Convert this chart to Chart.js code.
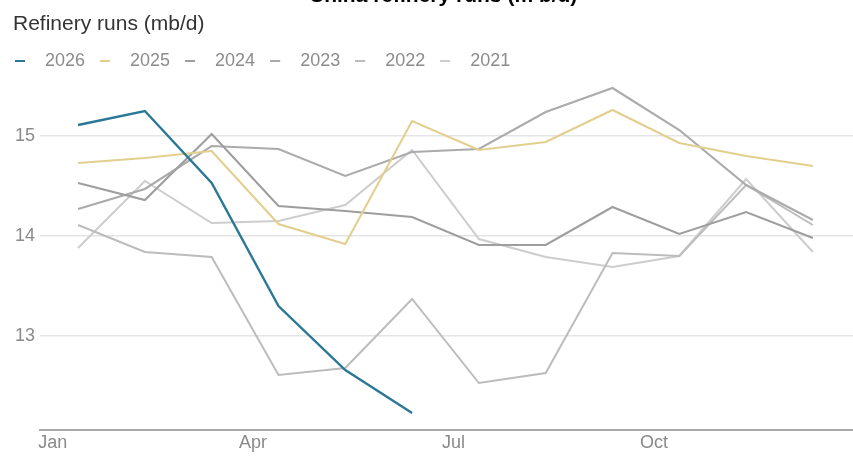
<!DOCTYPE html>
<html><head><meta charset="utf-8">
<script src="https://cdn.jsdelivr.net/npm/chart.js@4.4.0/dist/chart.umd.min.js"></script>
<style>
html,body{margin:0;padding:0;background:#fff;}
#wrap{position:relative;width:853px;height:460px;overflow:hidden;}
#c{position:absolute;left:0;top:0;}
#t{position:absolute;left:309px;top:-16px;font:bold 21px 'Liberation Sans',Arial,sans-serif;line-height:21px;color:#000;white-space:nowrap;}
#s{position:absolute;left:13px;top:12px;font:21px 'Liberation Sans',Arial,sans-serif;line-height:21px;color:#333;white-space:nowrap;}
</style></head><body>
<div id="wrap"><canvas id="c" width="853" height="460" style="width:853px;height:460px"></canvas><div id="t">China refinery runs (m b/d)</div><div id="s">Refinery runs (mb/d)</div></div>
<script>
const months = ['Jan','Feb','Mar','Apr','May','Jun','Jul','Aug','Sep','Oct','Nov','Dec'];
const tickLabels = ['Jan','Apr','Jul','Oct'];
const yTicks = [13, 14, 15];
const years = ['2026','2025','2024','2023','2022','2021'];
const v2026 = [15.11, 15.25, 14.53, 13.30, 12.66, 12.23];
const v2025 = [14.73, 14.78, 14.85, 14.12, 13.92, 15.15, 14.86, 14.94, 15.26, 14.93, 14.80, 14.70];
const v2024 = [14.53, 14.36, 15.02, 14.30, 14.25, 14.19, 13.91, 13.91, 14.29, 14.02, 14.24, 13.98];
const v2023 = [14.27, 14.47, 14.90, 14.87, 14.60, 14.84, 14.87, 15.24, 15.48, 15.06, 14.51, 14.16];
const v2022 = [14.11, 13.84, 13.79, 12.61, 12.68, 13.37, 12.53, 12.63, 13.83, 13.80, 14.51, 14.11];
const v2021 = [13.88, 14.55, 14.13, 14.15, 14.31, 14.86, 13.97, 13.79, 13.69, 13.80, 14.57, 13.84];

const seriesValues = [v2026, v2025, v2024, v2023, v2022, v2021];
const colors = ['#2b7896', '#e2cf8e', '#9e9e9e', '#ababab', '#bcbcbc', '#cdcdcd'];
const widths = [2.4, 2.1, 2.1, 2.1, 2, 2];

function dash(color) {
  const c = document.createElement('canvas');
  c.width = 21; c.height = 4;
  const g = c.getContext('2d');
  g.fillStyle = color;
  g.fillRect(0, 1, 10, 2);
  return c;
}

const FONT = "'Liberation Sans', Arial, sans-serif";
const datasets = years.map((yr, k) => ({
  label: yr,
  data: seriesValues[k].map((y, i) => ({x: i, y: y})),
  borderColor: colors[k],
  backgroundColor: colors[k],
  borderWidth: widths[k],
  pointRadius: 0,
  tension: 0,
  fill: false
}));

new Chart(document.getElementById('c'), {
  type: 'line',
  data: {datasets},
  options: {
    responsive: false,
    animation: false,
    layout: {padding: {top: 37, left: 0, right: 0, bottom: 0}},
    plugins: {
      tooltip: {enabled: false},
      title: {display: false},
      legend: {
        display: true,
        position: 'top',
        align: 'start',
        labels: {
          usePointStyle: true,
          pointStyleWidth: 21,
          padding: 15,
          color: '#8c8c8c',
          font: {family: FONT, size: 18},
          generateLabels: (chart) => {
            const items = Chart.defaults.plugins.legend.labels.generateLabels(chart);
            items.forEach((it, i) => { it.pointStyle = dash(colors[i]); it.lineWidth = 0; });
            return items;
          }
        }
      }
    },
    scales: {
      x: {
        type: 'linear',
        min: -0.57,
        max: 11.6,
        afterBuildTicks: (s) => { s.ticks = tickLabels.map((t, i) => ({value: i * 3 - 0.38})); },
        afterFit: (s) => { s.height = 30; },
        ticks: {
          autoSkip: false,
          maxRotation: 0,
          padding: 2,
          color: '#8a8a8a',
          font: {family: FONT, size: 18},
          callback: (v, i) => tickLabels[i]
        },
        grid: {display: false, drawTicks: false},
        border: {display: true, color: '#a8a8a8', width: 2}
      },
      y: {
        type: 'linear',
        min: 12.06,
        max: 15.56,
        afterBuildTicks: (s) => { s.ticks = yTicks.map(v => ({value: v})); },
        afterFit: (s) => { s.width = 40; },
        ticks: {
          padding: 5,
          color: '#8a8a8a',
          font: {family: FONT, size: 18},
          callback: (v) => String(v)
        },
        grid: {color: '#e4e4e4', lineWidth: 1.5, drawTicks: false},
        border: {display: false}
      }
    }
  }
});
</script>
</body></html>
